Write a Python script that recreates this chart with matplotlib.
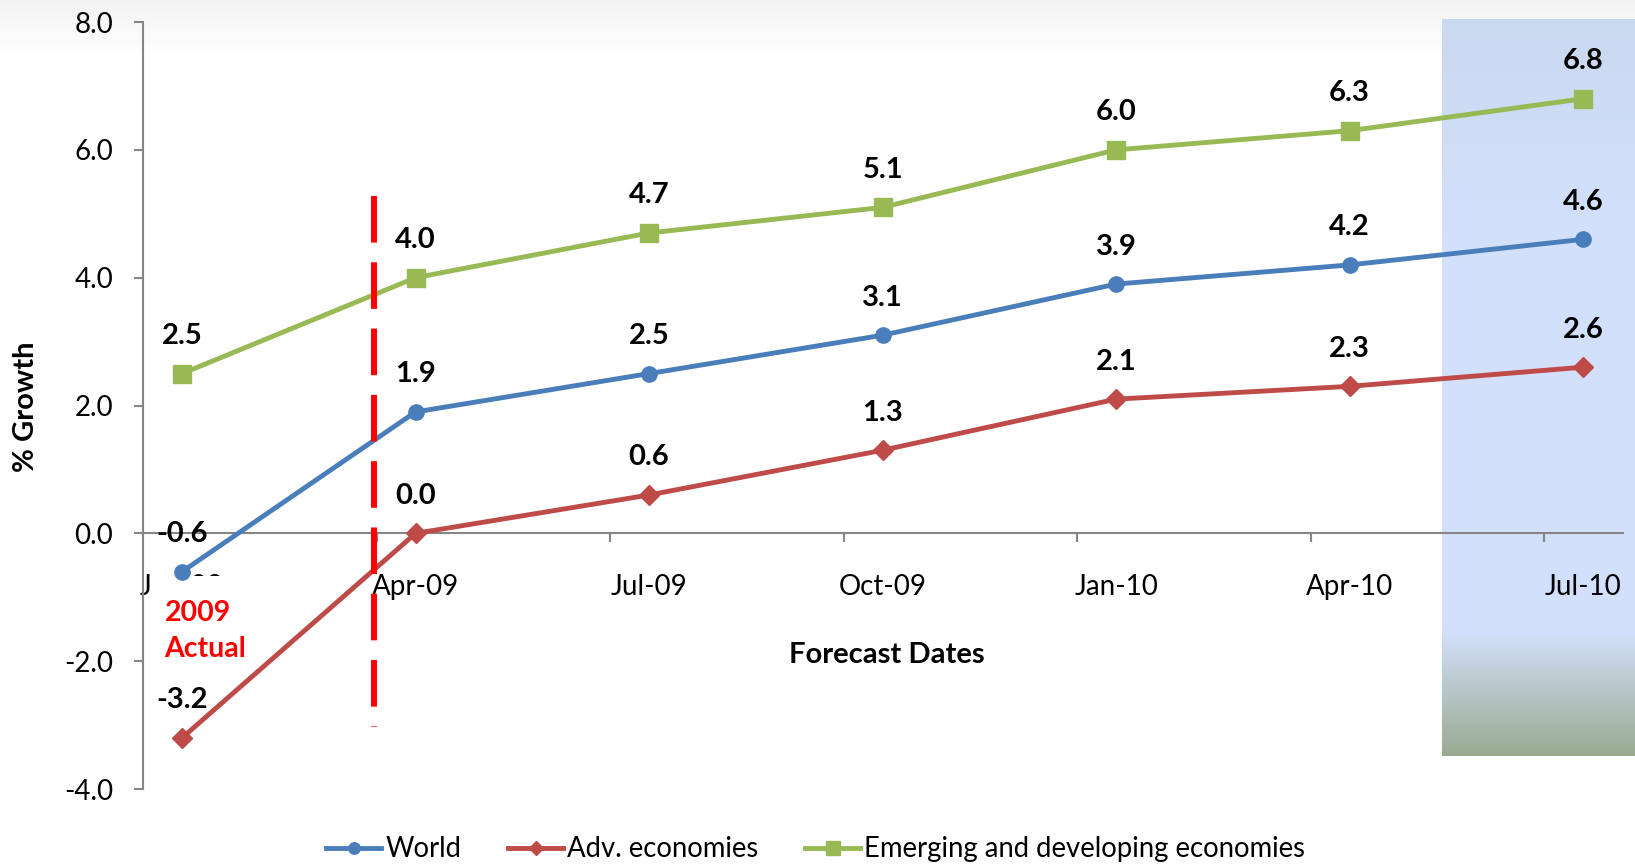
import numpy as np
import matplotlib
matplotlib.use("Agg")
import matplotlib.pyplot as plt
from matplotlib.patches import Rectangle
from matplotlib.ticker import FormatStrFormatter

plt.rcParams['font.family'] = ['Lato', 'DejaVu Sans']

# data
dates = ["Jan-09", "Apr-09", "Jul-09", "Oct-09", "Jan-10", "Apr-10", "Jul-10"]
world = [-0.6, 1.9, 2.5, 3.1, 3.9, 4.2, 4.6]
adv = [-3.2, 0.0, 0.6, 1.3, 2.1, 2.3, 2.6]
emerging = [2.5, 4.0, 4.7, 5.1, 6.0, 6.3, 6.8]

fig = plt.figure(figsize=(16.35, 8.64), dpi=100)

# faint grey band along the top of the slide
bg = fig.add_axes([0, 0, 1, 1], zorder=0)
rows = np.ones((400, 1, 3))
fade = np.clip(np.linspace(0, 1, 400) / 0.06, 0, 1)
rows[:, 0, :] = (0.95 + 0.05 * fade)[:, None]
bg.imshow(rows, aspect='auto', extent=[0, 1, 0, 1])
bg.axis('off')

# shaded box on the right (light blue, fading to grey-green at the bottom)
shade = fig.add_axes([0.882, 0.125, 0.118, 0.853], zorder=0.5)
t = np.linspace(0, 1, 300)
top = np.array([0.79, 0.85, 0.94])
mid = np.array([0.83, 0.88, 0.99])
bot = np.array([0.60, 0.67, 0.57])
grad = np.zeros((300, 1, 3))
for i, v in enumerate(t):
    if v < 0.3:
        c = top + (mid - top) * v / 0.3
    elif v < 0.83:
        c = mid
    else:
        c = mid + (bot - mid) * (v - 0.83) / 0.17
    grad[i, 0, :] = c
shade.imshow(grad, aspect='auto', extent=[0, 1, 0, 1])
shade.axis('off')

ax = fig.add_axes([0.0875, 0.0868, 0.9052, 0.8877], zorder=1)
ax.patch.set_alpha(0)

x = np.arange(len(dates))
ax.plot(x, world, color='#4a7ebb', lw=3.5, marker='o', ms=11, label='World', zorder=5, clip_on=False)
ax.plot(x, adv, color='#be4b48', lw=3.5, marker='D', ms=10, label='Adv. economies', zorder=5, clip_on=False)
ax.plot(x, emerging, color='#98b954', lw=3.5, marker='s', ms=13,
        label='Emerging and developing economies', zorder=5, clip_on=False)

for series in (world, adv, emerging):
    for i, v in enumerate(series):
        ax.annotate(f"{v:.1f}", (i, v), xytext=(0, 27), textcoords='offset points',
                    ha='center', va='center', fontsize=21, fontweight='bold', zorder=7)

ax.set_xlim(-0.167, 6.171)
ax.set_ylim(-4, 8)

ax.set_xticks(x)
ax.set_xticklabels(dates)
ax.set_xticks(x[:-1] + 0.833, minor=True)
ax.tick_params(axis='x', which='major', length=0, pad=29, labelsize=20)
ax.tick_params(axis='x', which='minor', length=6.5, width=1.5, color='#868686', direction='out')

ax.set_yticks(np.arange(-4, 9, 2))
ax.yaxis.set_major_formatter(FormatStrFormatter('%.1f'))
ax.tick_params(axis='y', length=6.5, width=1.5, color='#868686', pad=15, labelsize=20)

for s in ('top', 'right'):
    ax.spines[s].set_visible(False)
ax.spines['bottom'].set_position(('data', 0))
for s in ('left', 'bottom'):
    ax.spines[s].set_color('#868686')
    ax.spines[s].set_linewidth(1.5)

# white box of the "2009 Actual" note hides most of the first date label
ax.add_patch(Rectangle((-0.137, -2.14), 0.45, 1.48, facecolor='white', edgecolor='none', zorder=3))
ax.text(-0.075, -1.53, "2009\nActual", color='red', fontsize=20.5, fontweight='bold',
        ha='left', va='center', linespacing=1.5, zorder=4)

# red dashed divider between actual and forecasts
ax.plot([0.82, 0.82], [5.28, -3.03], color='red', lw=4.3, dashes=(7.8, 3.3), zorder=6)

fig.text(26 / 1635, 1 - 407 / 864, "% Growth", rotation=90, fontsize=21, fontweight='bold',
         ha='center', va='center')
fig.text(887 / 1635, 1 - 655 / 864, "Forecast Dates", fontsize=21, fontweight='bold',
         ha='center', va='center')

handles, labels = ax.get_legend_handles_labels()
fig.legend(handles, labels, loc='center', bbox_to_anchor=(0.499, 0.017), ncol=3, frameon=False,
           fontsize=19.8, handlelength=2.0, handletextpad=0.15, columnspacing=1.7, markerscale=0.75)

fig.savefig("out.png", dpi=100)
